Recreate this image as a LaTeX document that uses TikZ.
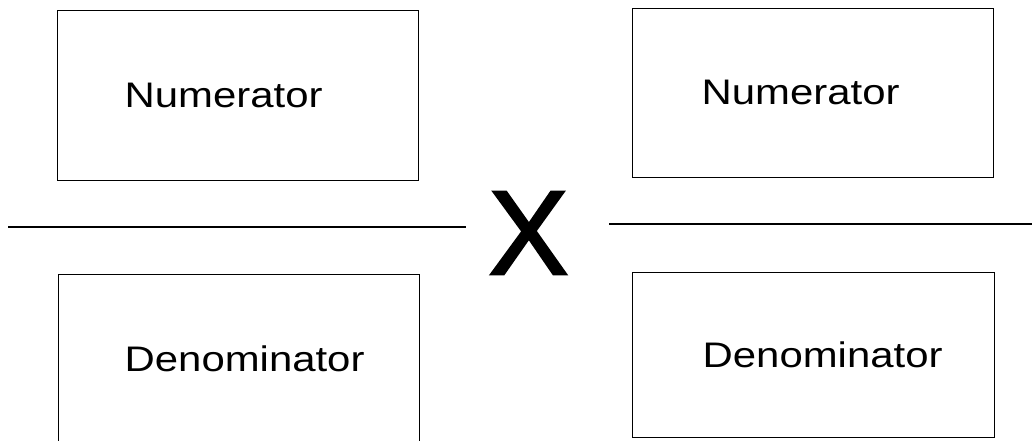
\documentclass[tikz,border=0pt]{standalone}
\usepackage{fontspec}
\setmainfont{Liberation Sans}
\newfontfamily\timesfont[FakeBold=2]{Liberation Sans}
\newcommand{\wide}[1]{\scalebox{1.18}[1]{#1}}
\begin{document}
\begin{tikzpicture}[x=1pt, y=-1pt,
  fracbox/.style={draw, line width=1pt, minimum width=361pt, minimum height=170pt, inner sep=0pt},
  fractext/.style={anchor=west, inner sep=0pt, font=\fontsize{35.5}{40}\selectfont},
  bar/.style={line width=1.2pt}]
\useasboundingbox (0,0) rectangle (1032,440);
% left fraction
\node[fracbox] (numL) at (237.5,95) {};
\node[fracbox] (denL) at (238.5,359) {};
\node[fractext] (numLt) at ([xshift=68]numL.west) {\wide{Numerator}};
\node[fractext] (denLt) at ([xshift=67]denL.west) {\wide{Denominator}};
% right fraction
\node[fracbox, minimum height=169pt] (numR) at (812.5,92.5) {};
\node[fracbox, minimum width=362pt, minimum height=165pt] (denR) at (813,354.5) {};
\node[fractext] (numRt) at ([xshift=70]numR.west) {\wide{Numerator}};
\node[fractext] (denRt) at ([xshift=71]denR.west) {\wide{Denominator}};
% times sign
\node[inner sep=0pt, font=\timesfont\fontsize{120}{120}\selectfont] (times) at (528.5,233) {X};
\coordinate (barL1) at (8,227);
\coordinate (barL2) at (466,227);
\coordinate (barR1) at (609,224);
\coordinate (barR2) at (1032,224);
\draw[bar] (barL1) -- (barL2);
\draw[bar] (barR1) -- (barR2);
\end{tikzpicture}
\end{document}
